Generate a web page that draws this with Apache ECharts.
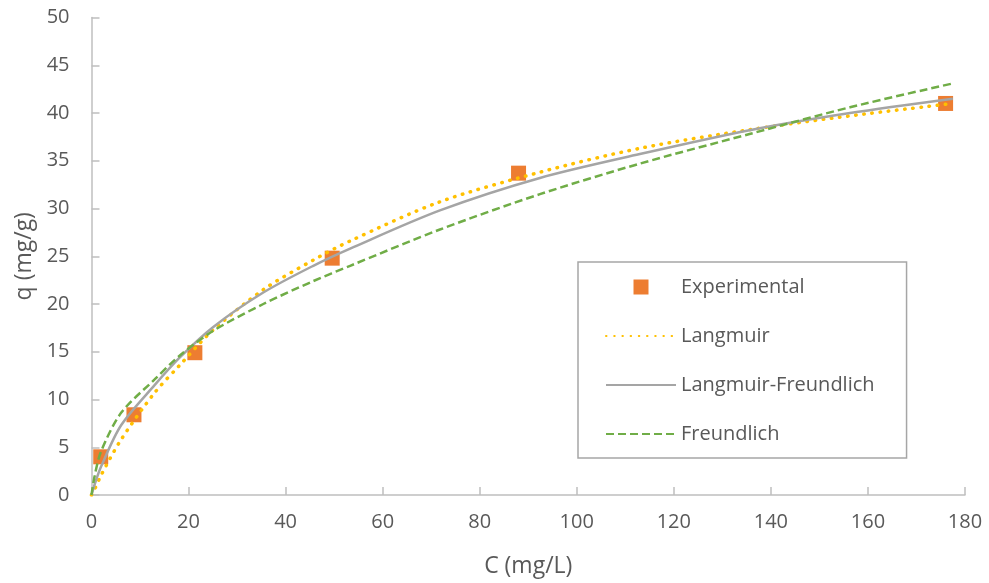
<!DOCTYPE html>
<html>
<head>
<meta charset="utf-8">
<script src="https://cdn.jsdelivr.net/npm/echarts@6/dist/echarts.min.js"></script>
<style>
  html, body { margin: 0; padding: 0; background: #ffffff; }
  #chart { width: 989px; height: 583px; }
</style>
</head>
<body>
<div id="chart"></div>
<script>
// Measured equilibrium data: C (mg/L) vs q (mg/g)
const expC = [1.9, 8.75, 21.3, 49.6, 88.0, 176.0];
const expQ = [4.0, 8.4, 14.9, 24.8, 33.7, 41.0];

// Isotherm model curves, sampled at these concentrations
const fitC        = [0, 0.65, 2.0, 6.1, 13.0, 18.2, 25.1, 35.4, 45.7, 53.3, 71.8, 92.4, 113.0, 135.6, 156.3, 177.5];
const langmuirQ   = [0, 0.6, 2.1, 5.8, 10.7, 13.6, 17.3, 21.5, 24.6, 26.6, 30.7, 33.8, 36.3, 38.25, 39.7, 41.0];
const lfQ         = [0, 1.1, 3.0, 7.3, 11.5, 14.4, 17.6, 21.2, 24.0, 25.8, 29.8, 33.2, 35.7, 38.2, 40.0, 41.5];
const freundlichQ = [0, 2.0, 4.6, 8.6, 12.1, 14.6, 17.2, 20.0, 22.4, 24.0, 27.8, 31.5, 34.7, 37.8, 40.6, 43.1];

const seriesNames = ['Experimental', 'Langmuir', 'Langmuir-Freundlich', 'Freundlich'];

const pairs = (xs, ys) => xs.map((x, i) => [x, ys[i]]);

const axisColor = '#bfbfbf';
const textColor = '#595959';
const font = 'Open Sans';

const chart = echarts.init(document.getElementById('chart'), null, { renderer: 'canvas' });

// line legend entries show only the stroke, no marker
const lineOnly = { itemStyle: { opacity: 0 } };

chart.setOption({
  animation: false,
  backgroundColor: '#ffffff',
  grid: { left: 91.5, right: 24, top: 17.5, bottom: 87, containLabel: false },
  xAxis: {
    type: 'value',
    min: 0, max: 180, interval: 20,
    name: 'C (mg/L)',
    nameLocation: 'middle',
    nameGap: 60,
    nameTextStyle: { color: textColor, fontFamily: font, fontSize: 23 },
    axisLine: { show: true, onZero: false, lineStyle: { color: axisColor, width: 1.5 } },
    axisTick: { show: true, inside: true, length: 8, lineStyle: { color: axisColor, width: 1.5 } },
    axisLabel: { color: textColor, fontFamily: font, fontSize: 20, margin: 17 },
    splitLine: { show: false }
  },
  yAxis: {
    type: 'value',
    min: 0, max: 50, interval: 5,
    name: 'q (mg/g)',
    nameLocation: 'middle',
    nameGap: 42,
    nameTextStyle: { color: textColor, fontFamily: font, fontSize: 23 },
    axisLine: { show: true, lineStyle: { color: axisColor, width: 1.5 } },
    axisTick: { show: true, inside: true, length: 8, lineStyle: { color: axisColor, width: 1.5 } },
    axisLabel: { color: textColor, fontFamily: font, fontSize: 20, margin: 22 },
    splitLine: { show: false }
  },
  legend: {
    orient: 'vertical',
    left: 578,
    top: 262,
    padding: [13, 32, 12, 27],
    borderColor: '#a6a6a6',
    borderWidth: 1.5,
    itemWidth: 70,
    itemHeight: 15,
    itemGap: 25,
    textStyle: { color: textColor, fontFamily: font, fontSize: 20, lineHeight: 24 },
    data: [
      { name: seriesNames[0], icon: 'path://M0,0H10V10H0Z' },
      Object.assign({ name: seriesNames[1] }, lineOnly),
      Object.assign({ name: seriesNames[2] }, lineOnly),
      Object.assign({ name: seriesNames[3] }, lineOnly)
    ]
  },
  series: [
    {
      name: seriesNames[0],
      type: 'scatter',
      symbol: 'rect',
      symbolSize: 15,
      itemStyle: { color: '#ED7D31', opacity: 1 },
      data: pairs(expC, expQ)
    },
    {
      name: seriesNames[1],
      type: 'line',
      smooth: 0.3,
      symbol: 'none',
      itemStyle: { color: '#FFC000' },
      lineStyle: { color: '#FFC000', width: 3.5, type: [0.5, 7.7], cap: 'round' },
      data: pairs(fitC, langmuirQ)
    },
    {
      name: seriesNames[2],
      type: 'line',
      smooth: 0.3,
      symbol: 'none',
      itemStyle: { color: '#A5A5A5' },
      lineStyle: { color: '#A5A5A5', width: 2.5 },
      data: pairs(fitC, lfQ)
    },
    {
      name: seriesNames[3],
      type: 'line',
      smooth: 0.3,
      symbol: 'none',
      itemStyle: { color: '#70AD47' },
      lineStyle: { color: '#70AD47', width: 2.5, type: [8, 4] },
      data: pairs(fitC, freundlichQ)
    }
  ]
});
</script>
</body>
</html>
